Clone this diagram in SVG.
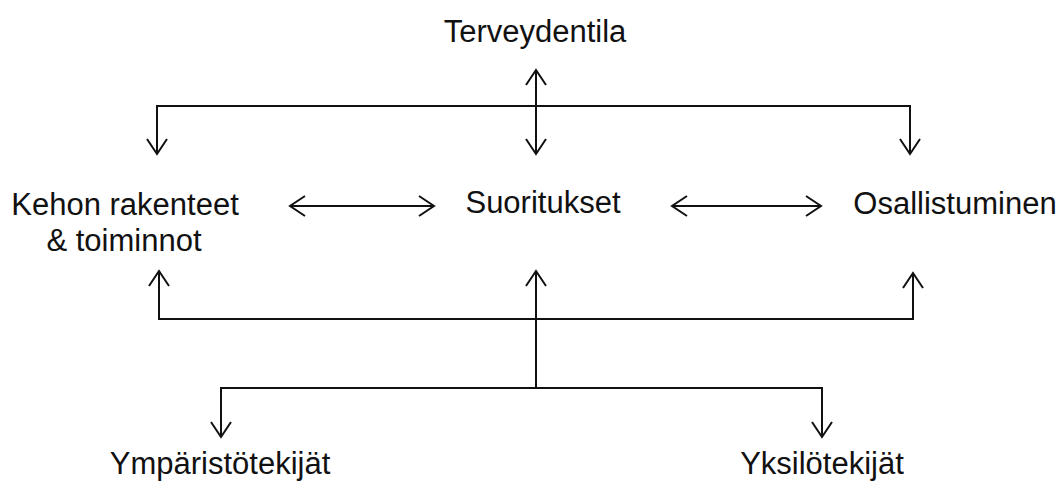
<svg xmlns="http://www.w3.org/2000/svg" width="1063" height="484" viewBox="0 0 1063 484">
<style>
text{font-family:"Liberation Sans",Arial,sans-serif;font-size:31px;fill:#111;text-anchor:middle}
.c{fill:none;stroke:#111;stroke-width:2}
</style>
<defs>
<marker id="ah" viewBox="-16 -11 18 22" refX="0" refY="0" markerWidth="18" markerHeight="22" markerUnits="userSpaceOnUse" orient="auto-start-reverse">
<path d="M-15,-10 L0,0 L-15,10" fill="none" stroke="#111" stroke-width="2"/>
</marker>
</defs>
<rect width="1063" height="484" fill="#fff"/>
<g id="connectors">
<path class="c" d="M536,70 V154" marker-start="url(#ah)" marker-end="url(#ah)"/>
<path class="c" d="M157,154 V106 H910 V154" marker-start="url(#ah)" marker-end="url(#ah)"/>
<path class="c" d="M290,206 H434" marker-start="url(#ah)" marker-end="url(#ah)"/>
<path class="c" d="M672,206 H821" marker-start="url(#ah)" marker-end="url(#ah)"/>
<path class="c" d="M159,271 V319 H913 V273" marker-start="url(#ah)" marker-end="url(#ah)"/>
<path class="c" d="M536,271 V387" marker-start="url(#ah)"/>
<path class="c" d="M221,437 V388 H822 V437" marker-start="url(#ah)" marker-end="url(#ah)"/>
</g>
<g id="terveydentila"><text x="535" y="42">Terveydentila</text></g>
<g id="kehon"><text x="125" y="215">Kehon rakenteet</text><text x="124" y="251">&amp; toiminnot</text></g>
<g id="suoritukset"><text x="543" y="213">Suoritukset</text></g>
<g id="osallistuminen"><text x="955" y="214">Osallistuminen</text></g>
<g id="ymparistotekijat"><text x="220" y="474">Ympäristötekijät</text></g>
<g id="yksilotekijat"><text x="822" y="474">Yksilötekijät</text></g>
</svg>
